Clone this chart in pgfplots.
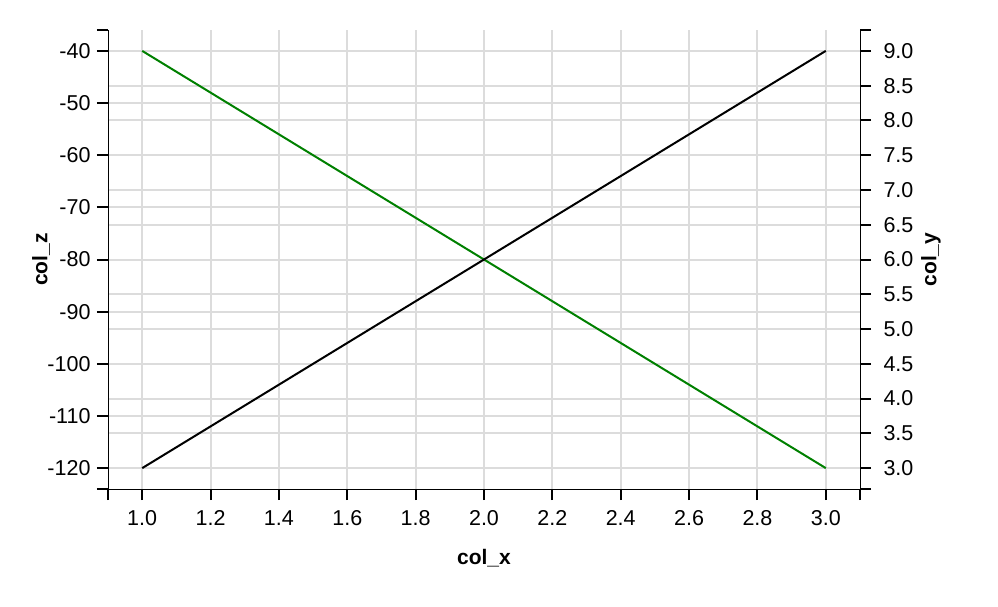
\documentclass[border=0pt]{standalone}
\usepackage{pgfplots}
\pgfplotsset{compat=1.18}
\usepackage{fontspec}
\setmainfont{Liberation Sans}

\definecolor{gridgray}{RGB}{220,220,220}
\definecolor{zgreen}{RGB}{0,128,0}

\pgfplotsset{
  common/.style={
    scale only axis, width=752pt, height=459pt,
    xmin=0.9, xmax=3.1,
    /pgf/number format/assume math mode=true,
    tick label style={font=\fontsize{21.5}{21.5}\selectfont},
    label style={font=\bfseries\fontsize{21}{21}\selectfont},
    every axis line/.style={line width=2pt, black},
    every tick/.style={line width=2pt, black},
    major tick length=11pt,
    tick align=outside,
    minor tick num=0,
    grid style={line width=2pt, gridgray},
    extra tick style={grid=none},
  },
}

\begin{document}
\begin{tikzpicture}
% right axis: col_y, ticks and its gridlines
\begin{axis}[common,
  axis x line=none, axis y line*=right,
  ymin=2.7, ymax=9.3,
  ytick={3,3.5,4,4.5,5,5.5,6,6.5,7,7.5,8,8.5,9},
  yticklabel style={xshift=9pt, /pgf/number format/.cd, fixed, fixed zerofill, precision=1},
  extra y ticks={2.7,9.3}, extra y tick labels={,},
  ymajorgrids,
  ylabel={col\_y},
  ylabel style={at={([xshift=71pt]axis description cs:1,0.5)}, anchor=center, rotate=0},
]
\end{axis}

% left and bottom axes: col_z against col_x
\begin{axis}[common, name=main,
  axis x line*=bottom, axis y line*=left,
  ymin=-124, ymax=-36,
  xtick={1,1.2,1.4,1.6,1.8,2,2.2,2.4,2.6,2.8,3},
  xticklabel style={yshift=-7pt, /pgf/number format/.cd, fixed, fixed zerofill, precision=1},
  yticklabel style={xshift=-3pt},
  ytick={-120,-110,-100,-90,-80,-70,-60,-50,-40},
  extra x ticks={0.9,3.1}, extra x tick labels={,},
  extra y ticks={-124,-36}, extra y tick labels={,},
  xmajorgrids, ymajorgrids,
  xlabel={col\_x}, ylabel={col\_z},
  xlabel style={at={([yshift=-69pt]axis description cs:0.5,0)}, anchor=center},
  ylabel style={at={([xshift=-67pt]axis description cs:0,0.5)}, anchor=center},
]
\addplot[zgreen, line width=2pt] coordinates {(1,-40) (2,-80) (3,-120)};
\end{axis}

% col_y series on the right-axis scale
\begin{axis}[common, hide axis, ymin=2.7, ymax=9.3]
\addplot[black, line width=2pt] coordinates {(1,3) (2,6) (3,9)};
\end{axis}

\pgfresetboundingbox
\path (-108pt,-117pt) rectangle (890pt,489pt);
\end{tikzpicture}
\end{document}
